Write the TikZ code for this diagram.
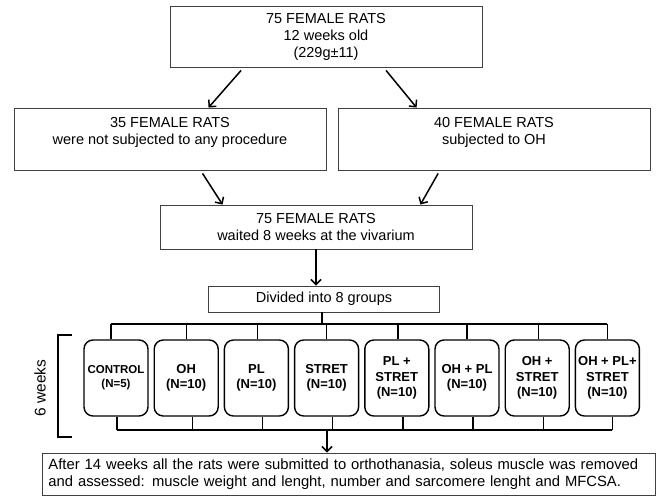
\documentclass[tikz,border=0pt]{standalone}
\usepackage{fontspec}
\setmainfont{Liberation Sans}
\usetikzlibrary{arrows.meta,positioning}

\tikzset{
  box/.style={draw=black!75, line width=0.9pt, inner sep=0pt, align=center,
    font=\fontsize{14.5}{17}\selectfont},
  grp/.style={draw, line width=1.4pt, rounded corners=9pt, minimum width=64pt,
    minimum height=76pt, inner sep=0pt, align=center,
    font=\fontsize{13}{15.5}\selectfont\bfseries},
  grpsmall/.style={font=\fontsize{11.5}{14}\selectfont\bfseries},
  plain/.style={},
  link/.style={line width=1.4pt},
  arr/.style={line width=1.5pt, -{Straight Barb[length=5pt,width=10pt]}},
}

\begin{document}
\begin{tikzpicture}[x=1pt,y=-1pt]
    \useasboundingbox (0,0) rectangle (665,496);

    % Rats before and after the OH split
    \node[box, minimum width=312pt, minimum height=61pt] (start) at (326,36.5) {75 FEMALE RATS\\12 weeks old\\(229g±11)};
    \node[box, minimum width=312pt, minimum height=62pt] (noproc) at (170,139) {35 FEMALE RATS\\were not subjected to any procedure\\\mbox{}};
    \node[box, minimum width=312pt, minimum height=62pt] (ohrats) at (494,139) {40 FEMALE RATS\\subjected to OH\\\mbox{}};
    \node[box, minimum width=312pt, minimum height=44pt] (wait) at (316,227) {75 FEMALE RATS\\waited 8 weeks at the vivarium};
    \node[box, minimum width=231pt, minimum height=26pt] (divided) at (324,299) {Divided into 8 groups};

    \draw[arr] ([xshift=71.5pt,yshift=-3pt]start.south west) -- ([xshift=195pt]noproc.north west);
    \draw[arr] ([xshift=-96.4pt,yshift=-3pt]start.south east) -- ([xshift=79pt]ohrats.north west);
    \draw[arr] ([xshift=189pt,yshift=-3pt]noproc.south west) -- ([xshift=63pt]wait.north west);
    \draw[arr] ([xshift=100.6pt,yshift=-3pt]ohrats.south west) -- ([xshift=-52pt]wait.north east);
    \draw[arr] (wait.south) -- (wait.south |- divided.north);

    % Bus lines
    \coordinate (bustop) at (0,324);
    \coordinate (busbot) at (0,430);

    % The 8 groups
    \foreach \gname/\gopt/\ux/\dx/\gtext [count=\i from 0] in {
        ctrl/grpsmall/-5/1/{CONTROL\\(N=5)},
        oh/plain/0/6/{OH\\(N=10)},
        pl/plain/1/6/{PL\\(N=10)},
        stret/plain/0/6/{STRET\\(N=10)},
        plst/plain/1/6/{PL +\\STRET\\(N=10)},
        ohpl/plain/0/6/{OH + PL\\(N=10)},
        ohst/plain/1/6/{OH +\\STRET\\(N=10)},
        ohplst/plain/0/5/{OH + PL+\\STRET\\(N=10)}}
    {
        \node[grp,\gopt] (\gname) at (116+70.2*\i,378) {\gtext};
        \coordinate (\gname-t) at ([xshift=\ux pt]\gname.north);
        \coordinate (\gname-b) at ([xshift=\dx pt]\gname.south);
        \draw[link] (\gname-t) -- (\gname-t |- bustop);
        \draw[link] (\gname-b) -- (\gname-b |- busbot);
    }
    \draw[link] (ctrl-t |- bustop) -- (ohplst-t |- bustop);
    \draw[link] (ctrl-b |- busbot) -- (ohplst-b |- busbot);

    \coordinate (split) at ([xshift=-2pt]divided.south);
    \draw[link] (split) -- (split |- bustop);

    % Duration bracket
    \draw[line width=1.4pt] (72,335) -- (58,335) -- (58,437) -- (72,437);
    \node[rotate=90, font=\fontsize{15.5}{18}\selectfont] (weeks) at (40,388) {6 weeks};

    % Final step
    \node[box, minimum width=613pt, minimum height=42pt, text width=600pt, align=left, font=\fontsize{14.8}{17}\selectfont] (fin) at (348.5,474) {After 14 weeks all the rats were submitted to orthothanasia, soleus muscle was removed\\and assessed: muscle weight and lenght, number and sarcomere lenght and MFCSA.};
    \coordinate (join) at ([xshift=-21.5pt]fin.north);
    \draw[arr] (join |- busbot) -- (join);

\end{tikzpicture}
\end{document}
